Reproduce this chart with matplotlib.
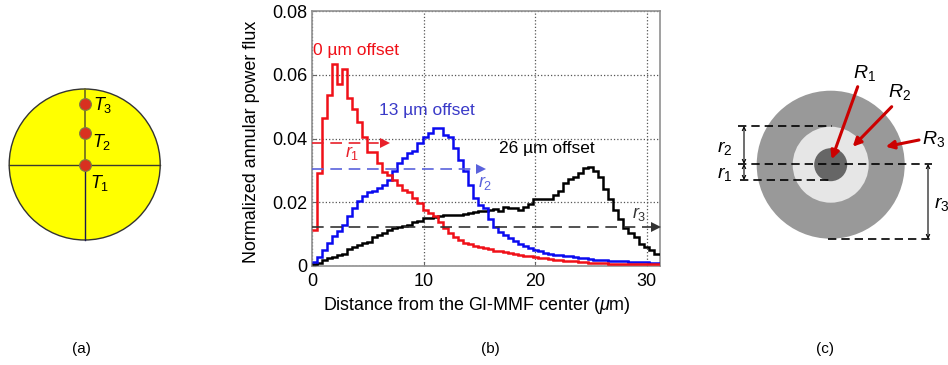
# coding=utf-8
import numpy as np
import matplotlib
matplotlib.use("Agg")
import matplotlib.pyplot as plt
from matplotlib.patches import Circle

plt.rcParams['font.family'] = ['Liberation Sans', 'DejaVu Sans']
plt.rcParams['mathtext.fontset'] = 'custom'
plt.rcParams['mathtext.rm'] = 'Liberation Sans'
plt.rcParams['mathtext.it'] = 'Liberation Sans:italic'

# annular flux per radial bin
bin_width = 0.45
red_flux = [.0113, .0292, .0464, .0537, .0634, .0571, .0617, .0528, .0493, .0453, .0405, .0359, .0359,
            .0323, .0296, .0286, .027, .0254, .0239, .0233, .0213, .0199, .0176, .0166, .0157, .0139,
            .0119, .0104, .0092, .0082, .0073, .0069, .0063, .006, .0056, .0053, .0048, .0046, .0043,
            .004, .0037, .0035, .0032, .003, .0028, .0026, .0024, .0022, .002, .0018, .0017, .0016,
            .0015, .0013, .0012, .001, .0009, .0008, .0008, .0007, .0007, .0007, .0006, .0006, .0006,
            .0006, .0006, .0006, .0006, .0006]
blue_flux = [.0012, .0029, .005, .0072, .0094, .011, .0129, .0157, .0182, .0205, .022, .0232, .0236,
             .0245, .0254, .027, .0299, .0323, .0339, .0355, .0362, .0387, .0405, .0418, .0434, .0434,
             .0411, .0405, .037, .0333, .0299, .0254, .0213, .0192, .0182, .0148, .0123, .0108, .0098,
             .0088, .0078, .0069, .0062, .0056, .005, .0046, .0042, .0039, .0036, .0034, .0032, .003,
             .0028, .0026, .0024, .0022, .002, .0019, .0018, .0017, .0016, .0016, .0015, .0014, .0013,
             .0012, .0011, .001, .0009, .0009]
black_flux = [.0006, .001, .0018, .0024, .0029, .0034, .0038, .0052, .0059, .0066, .0072, .0076, .0092,
              .0097, .0103, .0113, .0119, .0122, .0126, .0129, .0139, .0142, .0152, .015, .0154, .0157,
              .0161, .0159, .016, .0161, .0163, .0167, .017, .0172, .0174, .0175, .0178, .0174, .0185,
              .0181, .0181, .0176, .0184, .0195, .0209, .0209, .0209, .0209, .0223, .0236, .0261, .0272,
              .028, .0291, .0307, .0312, .0299, .028, .0242, .021, .0176, .0146, .012, .0103, .0091,
              .0069, .0061, .005, .0038, .0038]
r_levels = [.0385, .0305, .0123]
r_ends = [6.9, 15.5, 31.2]
x_ticks = [0, 10, 20, 30]
y_ticks = [0, .02, .04, .06, .08]
y_ticklabels = ['0', '0.02', '0.04', '0.06', '0.08']

fig = plt.figure(figsize=(9.48, 3.65), dpi=100)

# chart (b)
ax = fig.add_axes([312 / 948, 1 - 266 / 365, 348.3 / 948, 255 / 365])
for vals, col in [(black_flux, 'black'), (blue_flux, '#0a0af0'), (red_flux, '#f01018')]:
    edges = np.arange(len(vals) + 1) * bin_width
    ax.stairs(vals, edges, color=col, linewidth=1.8, baseline=None, zorder=3)
dash_cols = ['#e8202a', '#5a62dc', '#333333']
for lev, end, col in zip(r_levels, r_ends, dash_cols):
    ax.plot([0, end - 0.3], [lev, lev], color=col, lw=1.2, dashes=(7, 4), zorder=4)
    ax.plot([end - 0.4], [lev], marker='>', color=col, ms=7.5, mew=0, zorder=5, clip_on=False)
ax.set_xlim(0, 31.2)
ax.set_ylim(0, 0.08)
ax.set_xticks(x_ticks)
ax.set_yticks(y_ticks)
ax.set_yticklabels(y_ticklabels)
ax.tick_params(length=3, width=0.8, direction='in', color='#666666', labelsize=13, labelcolor='black')
ax.tick_params(axis='x', pad=5)
ax.tick_params(axis='y', pad=3)
ax.grid(True, color='#555555', linestyle=':', linewidth=0.9)
ax.set_axisbelow(True)
for s in ax.spines.values():
    s.set_color('#909090')
    s.set_linewidth(1.2)

# pixel overlay for the two schematics and loose labels
ov = fig.add_axes([0, 0, 1, 1], facecolor='none')
ov.set_xlim(0, 948)
ov.set_ylim(365, 0)
ov.axis('off')

ov.text(251, 142, 'Normalized annular power flux', rotation=90, fontsize=12.9, ha='center', va='center')
ov.text(477, 305, 'Distance from the GI-MMF center ($\\mathit{\\mu}$m)', fontsize=12.9, ha='center', va='center')
ov.text(356, 51, '0 µm offset', color='#f01018', fontsize=12.5, ha='center', va='center')
ov.text(427, 110, '13 µm offset', color='#3a3ac8', fontsize=12.5, ha='center', va='center')
ov.text(547, 148, '26 µm offset', color='black', fontsize=12.5, ha='center', va='center')
ov.text(352, 153, '$\\mathit{r_1}$', color='#e8202a', fontsize=13, ha='center', va='center')
ov.text(485, 183, '$\\mathit{r_2}$', color='#5a62dc', fontsize=13, ha='center', va='center')
ov.text(639, 214, '$\\mathit{r_3}$', color='#333333', fontsize=13, ha='center', va='center')

for label, x in zip(['(a)', '(b)', '(c)'], [81, 490, 825]):
    ov.text(x, 349, label, fontsize=11, ha='center', va='center')

# schematic (a)
ca = (84.7, 164.5)
ov.add_patch(Circle(ca, 75.5, facecolor='#ffff00', edgecolor='#333333', lw=1.0))
ov.plot([ca[0] - 75.5, ca[0] + 75.5], [ca[1], ca[1]], color='#3a3a30', lw=1.0)
ov.plot([ca[0], ca[0]], [ca[1], ca[1] + 75.5], color='#1a1a50', lw=1.0)
ov.plot([ca[0], ca[0]], [ca[1] - 75.5, ca[1]], color='#6a6a20', lw=1.2)
t_y = [164.5, 133.3, 103.7]
t_text_pos = [(100, 183), (102, 142), (103, 105)]
for i in range(3):
    ov.plot([ca[0]], [t_y[i]], marker='o', ms=8.5, mfc='#d93020', mec='#808040', mew=0.8)
    ov.text(t_text_pos[i][0], t_text_pos[i][1], '$\\mathit{T_%d}$' % (i + 1), fontsize=13,
            ha='center', va='center')

# schematic (c)
cc = (830.7, 164.7)
for rad, col in [(74, '#999999'), (38, '#e6e6e6'), (16.5, '#666666')]:
    ov.add_patch(Circle(cc, rad, facecolor=col, edgecolor='none'))
dash_segs = [(738, 832, 125.7), (738, 932, 164.3), (740, 833, 180.3), (828, 932, 239)]
for x0, x1, y in dash_segs:
    ov.plot([x0, x1], [y, y], color='black', lw=1.2, dashes=(5, 3))
dim_arrows = [(744, 126, 164), (744, 164, 180), (928, 164, 239)]
for x, y0, y1 in dim_arrows:
    ov.annotate('', xy=(x, y1), xytext=(x, y0),
                arrowprops=dict(arrowstyle='<->', color='black', lw=0.8, shrinkA=0, shrinkB=0,
                                mutation_scale=6))
red_arrows = [((857.7, 86.7), (831.7, 159.3)), ((891.7, 106.7), (852.7, 146.7)), ((919, 140), (885.7, 146.7))]
for start, end in red_arrows:
    ov.annotate('', xy=end, xytext=start,
                arrowprops=dict(arrowstyle='-|>', color='#cc0000', lw=2.2, shrinkA=0, shrinkB=0,
                                mutation_scale=12))
r_big = [(864, 73), (899, 92), (934, 139)]
for i, (x, y) in enumerate(r_big):
    ov.text(x, y, '$\\mathit{R_%d}$' % (i + 1), fontsize=14, ha='center', va='center')
r_small = [(725, 174), (725, 148), (942, 204)]
for i, (x, y) in enumerate(r_small):
    ov.text(x, y, '$\\mathit{r_%d}$' % (i + 1), fontsize=14, ha='center', va='center')

fig.savefig('out.png', dpi=100)
